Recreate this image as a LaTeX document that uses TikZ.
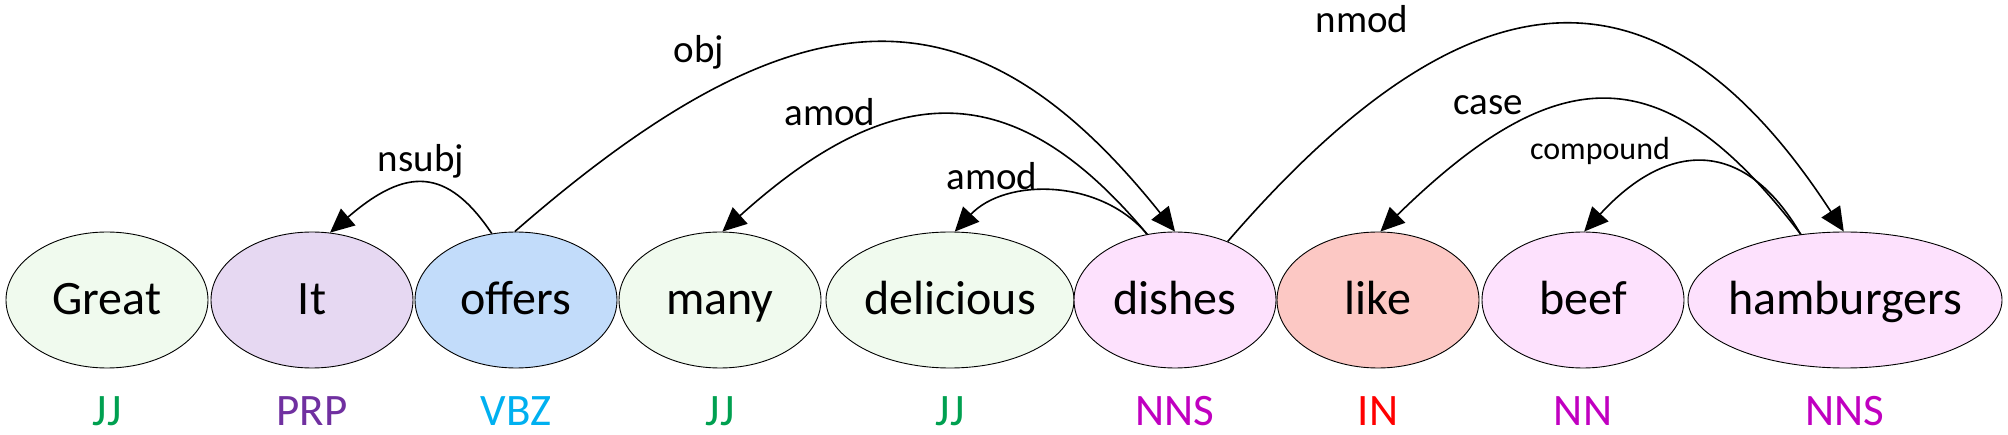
\documentclass[tikz,border=0pt]{standalone}
\usepackage{fontspec}
\setmainfont{Carlito}
\usetikzlibrary{shapes.geometric,arrows.meta}
\definecolor{fgreen}{HTML}{F0FAEE}
\definecolor{flav}{HTML}{E6D8F2}
\definecolor{fblue}{HTML}{C2DCFA}
\definecolor{fpink}{HTML}{FDE1FD}
\definecolor{fsalmon}{HTML}{FCC8C4}
\definecolor{pjj}{HTML}{00A050}
\definecolor{pprp}{HTML}{7030A0}
\definecolor{pvbz}{HTML}{00B0F0}
\definecolor{pnn}{HTML}{C000C0}
\definecolor{pin}{HTML}{FF0000}
\tikzset{
  word/.style={ellipse, draw=black, line width=0.9pt, inner sep=0pt,
    minimum width=202pt, minimum height=136pt, text height=40pt, text depth=10pt,
    font=\fontsize{48}{58}\selectfont},
  postag/.style={anchor=base, inner sep=0pt, font=\fontsize{45}{54}\selectfont},
  rel/.style={anchor=base, inner sep=0pt, font=\fontsize{39}{47}\selectfont},
  relsmall/.style={anchor=base, inner sep=0pt, font=\fontsize{32}{38}\selectfont},
  arc/.style={line width=1.6pt, -{Triangle[length=24pt,width=22pt]}}
}
\newcommand{\zw}[1]{\makebox[0pt]{#1}}
\begin{document}
\begin{tikzpicture}[x=1pt,y=-1pt]
\useasboundingbox (0,0) rectangle (2008,435);
\node[word, fill=fgreen] (great) at (107,300) {\zw{Great}};
\node[word, fill=flav] (it) at (312,300) {\zw{It}};
\node[word, fill=fblue] (offers) at (516,300) {\zw{offers}};
\node[word, fill=fgreen] (many) at (720,300) {\zw{many}};
\node[word, fill=fgreen, minimum width=248pt] (delicious) at (950,300) {\zw{delicious}};
\node[word, fill=fpink] (dishes) at (1175,300) {\zw{dishes}};
\node[word, fill=fsalmon] (like) at (1378,300) {\zw{like}};
\node[word, fill=fpink] (beef) at (1583,300) {\zw{beef}};
\node[word, fill=fpink, minimum width=314pt] (hamburgers) at (1845,300) {\zw{hamburgers}};

\node[postag, text=pjj] (p1) at (107,425) {JJ};
\node[postag, text=pprp] (p2) at (312,425) {PRP};
\node[postag, text=pvbz] (p3) at (516,425) {VBZ};
\node[postag, text=pjj] (p4) at (720,425) {JJ};
\node[postag, text=pjj] (p5) at (950,425) {JJ};
\node[postag, text=pnn] (p6) at (1175,425) {NNS};
\node[postag, text=pin] (p7) at (1378,425) {IN};
\node[postag, text=pnn] (p8) at (1583,425) {NN};
\node[postag, text=pnn] (p9) at (1845,425) {NNS};

\draw[arc] (offers.110) .. controls (447,167) and (406,167) .. (it.75);
\draw[arc] (offers.91) .. controls (802,-19) and (975,-19) .. (dishes.90);
\draw[arc] (dishes.113) .. controls (1015,76) and (895,76) .. (many.88);
\draw[arc] (dishes.113) .. controls (1100,178) and (1005,178) .. (delicious.86);
\draw[arc] (dishes.48) .. controls (1475,-45) and (1664,-45) .. (hamburgers.91);
\draw[arc] (hamburgers.124) .. controls (1665,56) and (1560,56) .. (like.88);
\draw[arc] (hamburgers.124) .. controls (1745,139) and (1669,139) .. (beef.89);

\node[rel] (lnsubj) at (421,172) {nsubj};
\node[rel] (lobj) at (699,63) {obj};
\node[rel] (lamod1) at (830,126) {amod};
\node[rel] (lamod2) at (992,190) {amod};
\node[rel] (lnmod) at (1362,33) {nmod};
\node[rel] (lcase) at (1488,115) {case};
\node[relsmall] (lcomp) at (1600,160) {compound};
\end{tikzpicture}
\end{document}
